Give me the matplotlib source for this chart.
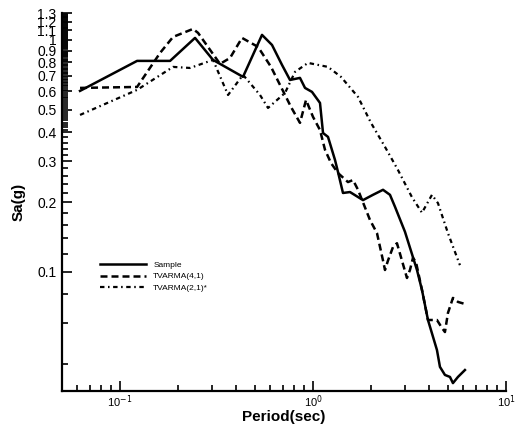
import numpy as np
import matplotlib
matplotlib.use("Agg")
import matplotlib.pyplot as plt
from matplotlib.ticker import FixedLocator, FixedFormatter, NullFormatter

plt.rcParams['font.family'] = ['Liberation Sans', 'DejaVu Sans']

# spectral acceleration
t_sample = [0.062, 0.1225, 0.1816, 0.2446, 0.3032, 0.4337, 0.5441, 0.6131, 0.6909, 0.760,
            0.856, 0.909, 0.988, 1.087, 1.127, 1.196, 1.300, 1.347, 1.430, 1.555,
            1.816, 2.046, 2.306, 2.506, 2.660, 2.997, 3.459, 3.672, 3.944, 4.390,
            4.550, 4.829, 5.127, 5.313, 5.641, 6.131]
sa_sample = [0.603, 0.812, 0.812, 1.020, 0.820, 0.693, 1.051, 0.951, 0.780, 0.672,
             0.686, 0.621, 0.597, 0.535, 0.397, 0.382, 0.304, 0.270, 0.219, 0.221,
             0.204, 0.215, 0.226, 0.215, 0.191, 0.149, 0.102, 0.0836, 0.0621, 0.0461,
             0.0390, 0.0360, 0.0353, 0.0332, 0.0353, 0.0378]

t_arma1 = [0.062, 0.1225, 0.1612, 0.1882, 0.2388, 0.2536, 0.3296, 0.3715, 0.4285, 0.5188,
           0.6058, 0.6826, 0.7691, 0.856, 0.920, 1.0, 1.087, 1.154, 1.239, 1.347,
           1.518, 1.612, 1.711, 1.974, 2.146, 2.306, 2.361, 2.447, 2.597, 2.724,
           2.891, 3.069, 3.181, 3.297, 3.417, 3.672, 3.944, 4.390, 4.660, 4.829,
           5.006, 5.313, 5.641, 6.131]
sa_arma1 = [0.621, 0.627, 0.879, 1.030, 1.115, 1.072, 0.788, 0.836, 1.020, 0.933,
            0.765, 0.627, 0.514, 0.439, 0.551, 0.466, 0.409, 0.336, 0.295, 0.267,
            0.244, 0.249, 0.226, 0.1675, 0.147, 0.112, 0.102, 0.112, 0.128, 0.133,
            0.112, 0.0942, 0.102, 0.115, 0.1104, 0.0836, 0.0621, 0.0621, 0.0574, 0.0551,
            0.0666, 0.0773, 0.0743, 0.0728]

t_arma2 = [0.062, 0.1225, 0.1882, 0.2305, 0.3032, 0.3628, 0.4337, 0.5313, 0.5845, 0.716,
           0.8067, 0.9421, 1.196, 1.396, 1.711, 1.998, 2.361, 2.757, 3.258, 3.672,
           4.136, 4.443, 5.006, 5.775]
sa_arma2 = [0.475, 0.609, 0.765, 0.757, 0.820, 0.579, 0.707, 0.579, 0.509, 0.591,
            0.728, 0.796, 0.765, 0.693, 0.568, 0.439, 0.346, 0.275, 0.210, 0.180,
            0.215, 0.198, 0.147, 0.107]

labels = ["Sample", "TVARMA(4,1)", "TVARMA(2,1)*"]

y_major = [0.1, 0.2, 0.3, 0.4, 0.5, 0.6, 0.7, 0.8, 0.9, 1.0, 1.1, 1.2, 1.3]
y_major_labels = ["0.1", "0.2", "0.3", "0.4", "0.5", "0.6", "0.7", "0.8", "0.9", "1", "1.1", "1.2", "1.3"]
x_major = [0.1, 1, 10]
x_major_labels = ["10$^{-1}$", "10$^{0}$", "10$^{1}$"]

fig = plt.figure(figsize=(5.18, 4.30), dpi=100)
ax = fig.add_axes([0.1197, 0.0907, 0.857, 0.878])

ax.plot(t_sample, sa_sample, color='black', lw=1.8, ls='-', label=labels[0])
ax.plot(t_arma1, sa_arma1, color='black', lw=1.8, ls=(0, (2.8, 1.6)), label=labels[1])
ax.plot(t_arma2, sa_arma2, color='black', lw=1.6, ls=(0, (2.0, 1.6, 0.7, 1.6)), label=labels[2])

ax.set_xscale('log')
ax.set_yscale('log')
ax.set_xlim(0.05, 10)
ax.set_ylim(0.0307, 1.3)

ax.yaxis.set_major_locator(FixedLocator(y_major))
ax.yaxis.set_major_formatter(FixedFormatter(y_major_labels))
minor_y = [0.04, 0.06, 0.08] + list(np.arange(0.12, 0.4, 0.02)) + list(np.arange(0.41, 1.3, 0.01))
minor_y = [v for v in minor_y if min(abs(v - m) for m in y_major) > 1e-6]
ax.yaxis.set_minor_locator(FixedLocator(minor_y))
ax.yaxis.set_minor_formatter(NullFormatter())

ax.xaxis.set_major_locator(FixedLocator(x_major))
ax.xaxis.set_major_formatter(FixedFormatter(x_major_labels))

for s in ['top', 'right']:
    ax.spines[s].set_visible(False)
for s in ['left', 'bottom']:
    ax.spines[s].set_linewidth(1.6)

ax.tick_params(which='both', direction='in', width=1.2)
ax.tick_params(which='major', length=7)
ax.tick_params(which='minor', length=4)
ax.tick_params(axis='y', which='major', labelsize=10, pad=4)
ax.tick_params(axis='x', which='major', labelsize=8, pad=2)

ax.set_xlabel("Period(sec)", fontsize=11, fontweight='bold', labelpad=0)
ax.set_ylabel("Sa(g)", fontsize=11, fontweight='bold', labelpad=8)

ax.legend(loc='upper left', bbox_to_anchor=(0.078, 0.352), frameon=False, fontsize=6,
          handlelength=5.5, handletextpad=0.9, labelspacing=0.4, borderaxespad=0)

fig.savefig("out.png", dpi=100)
